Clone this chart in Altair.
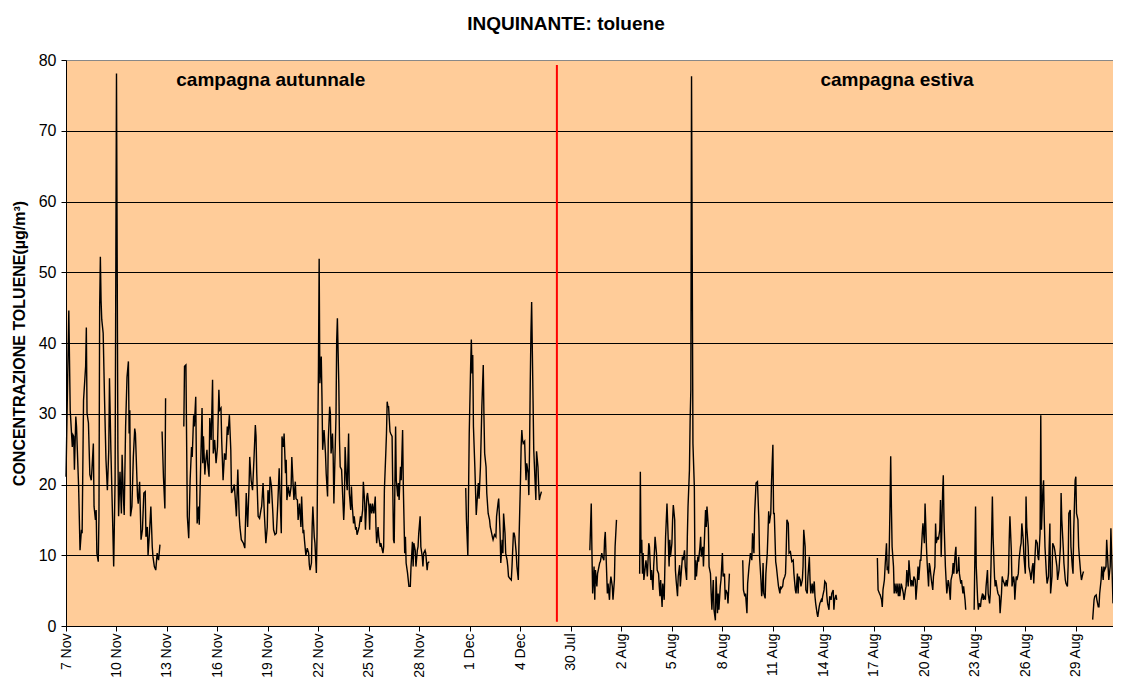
import altair as alt
import pandas as pd

# ---------------- data ----------------
x_labels = ["7 Nov", "10 Nov", "13 Nov", "16 Nov", "19 Nov", "22 Nov", "25 Nov",
            "28 Nov", "1 Dec", "4 Dec", "30 Jul", "2 Aug", "5 Aug", "8 Aug",
            "11 Aug", "14 Aug", "17 Aug", "20 Aug", "23 Aug", "26 Aug", "29 Aug"]
hours_per_label = 72
total_hours = 1493

# hour index (from 7 Nov 00:00, campaigns placed back to back); None = data gap
aut_hours = [
    0, 4, 5, 6, 9, 10, 11, 12, 14, 15, 18, 20, 22, 23, 25, 28, 29, 30, 32, 34, 36, 37, 39, 40,
    42, 43, 44, 46, 47, 48, 49, 50, 51, 53, 55, 57, 59, 61, 62, 64, 66, 68, 70, 72, 74, 75,
    77, 79, 80, 82, 83, 85, 87, 89, 90, 91, 92, 94, 96, 98, 99, 102, 103, 105, 107, 109,
    111, 113, 114, 116, 117, 119, 121, 123, 124, 126, 128, 130, 132, 134, None,
    137, 139, 141, 142, None,
    168, 169, 171, 173, 175, 177, 179, 180, 182, 183, 185, 186, 187, 189, 190, 192, 194,
    195, 196, 198, 199, 201, 202, 204, 205, 207, 208, 209, 210, 212, 214, 216, 218, 219,
    221, 222, 224, 226, 228, 230, 231, 233, 235, 236, 238, 240,
    243, 245, 247, 248, 250, 253, 255, 257, 259, 261, 262, 264, 266, 268, 270, 271, 272,
    274, 276, 278, 279, 281, 283, 285, 287, 288, 290, 291, 293, 295, 296, 298, 300, 302,
    304, 305, 307, 308, 310, 311, 313, 314, 315, 317, 319, 321, 322, 324, 325, 327, 328,
    330, 331, 333, 335, 336, 338, 339, 340, 342, 344, 346, 347, 348, 350, 351, 352, 354,
    355, 357, 358, 359, 360, 361, 362, 364, 365, 366, 368, 370, 371, 373, 374, 376, 377,
    378, 380, 381, 382, 383, 385, 386, 387, 389, 390, 391, 393, 394, 396, 397, 398, 400,
    401, 403, 404, 406, 407, 408, 410, 411, 413, 414, 415, 417, 418, 420, 421, 423, 424,
    426, 427, 429, 430, 432, 433, 434, 436, 437, 439, 441, 442, 443, 445, 446, 448, 449,
    450, 452, 453, 454, 456, 457, 458, 459, 460, 462, 463, 465, 466, 467, 468, 470, 471,
    473, 474, 475, 477, 478, 480, 481, 483, 484, 485, 487, 489, 491, 492, 494, 495, 496,
    498, 499, 501, 502, 503, 505, 506, 508, 509, 510, 512, 513, 515, 516, 518, None,
    570, 571, 573, 575, 577, 578, 579, 580, 581, 583, 585, 587, 588, 589, 591, 593, 595,
    596, 597, 599, 600, 602, 604, 605, 606, 608, 609, 611, 613, 614, 616, 617, 619, 620,
    622, 623, 624, 626, 627, 629, 630, 631, 633, 635, 636, 638, 639, 640, 642, 643, 645,
    646, 648, 649, 650, 651, 652, 654, 655, 656, 657, 659, 660, 661, 662, 663, 664, 666,
    667, 669, 670, 671, 673, 674, 675, 676, 678,
]
aut_values = [
    21.1, 44.6, 37.6, 30.5, 25.3, 27.0, 26.8, 22.1, 29.6, 28.2, 19.7, 10.7, 13.6, 13.1, 31.9,
    36.7, 42.2, 30.1, 28.7, 21.4, 20.6, 22.1, 25.8, 16.9, 15.0, 16.4, 10.3, 9.1, 15.5, 45.1,
    52.2, 46.0, 43.3, 41.4, 31.9, 23.5, 19.2, 24.9, 35.0, 24.9, 16.9, 8.4, 20.6, 78.1, 24.9,
    15.5, 21.8, 15.9, 24.2, 17.8, 15.7, 28.2, 35.2, 37.4, 27.2, 30.5, 15.5, 16.9, 23.9, 27.9,
    27.2, 18.3, 17.3, 20.4, 12.2, 13.6, 18.8, 19.0, 12.6, 14.0, 10.0, 13.1, 16.9, 11.2, 9.8,
    8.4, 7.9, 10.3, 9.3, 11.5, None,
    27.5, 21.0, 16.6, 32.2, None,
    28.2, 36.7, 36.9, 15.5, 12.4, 20.6, 25.3, 23.9, 29.8, 28.2, 32.4, 22.5, 14.5, 16.9, 14.3,
    22.5, 30.8, 23.0, 26.8, 21.4, 23.0, 24.9, 23.0, 21.1, 29.4, 26.3, 30.5, 34.8, 24.4, 26.3,
    23.0, 25.3, 33.4, 30.5, 30.8, 26.3, 20.6, 24.4, 23.5, 28.2, 27.0, 29.8, 24.9, 18.8, 19.2,
    20.0,
    15.5, 22.1, 15.5, 14.0, 12.2, 11.7, 11.0, 18.8, 14.0, 19.7, 23.9, 20.6, 19.2, 23.5, 28.4,
    26.8, 21.6, 15.5, 15.2, 16.4, 16.9, 20.2, 15.5, 11.7, 14.0, 19.2, 17.3, 21.1, 19.7, 15.9,
    13.6, 12.9, 13.1, 17.3, 22.3, 19.2, 13.1, 26.8, 25.3, 27.2, 21.6, 23.5, 17.8, 19.7, 18.3,
    19.7, 23.9, 19.7, 17.8, 20.4, 18.0, 17.8, 15.0, 17.3, 14.0, 18.3, 13.1, 13.6, 12.2, 10.0,
    11.0, 10.3, 8.6, 7.9, 8.9, 14.0, 16.9, 12.6, 11.7, 7.5, 13.1, 26.3, 36.7, 51.9, 34.3,
    38.1, 32.4, 24.9, 27.7, 24.4, 21.6, 18.3, 26.3, 31.0, 30.1, 24.4, 27.2, 23.9, 17.3, 21.6,
    29.6, 40.4, 43.5, 34.3, 26.3, 22.5, 22.1, 19.7, 15.0, 17.3, 25.3, 20.6, 19.2, 27.2, 18.8,
    16.4, 19.7, 17.3, 14.5, 15.5, 13.6, 14.0, 12.9, 13.6, 14.0, 15.5, 14.7, 16.4, 20.4, 17.3,
    13.6, 18.3, 18.8, 16.9, 13.6, 17.3, 15.9, 17.3, 15.9, 18.3, 14.0, 11.7, 14.0, 12.6, 11.2,
    11.7, 11.2, 10.3, 11.2, 19.2, 24.4, 27.2, 31.7, 31.0, 31.0, 27.5, 27.2, 26.8, 19.2, 12.2,
    11.7, 28.2, 20.6, 18.3, 20.2, 17.8, 22.5, 20.6, 27.7, 19.7, 10.3, 12.6, 8.9, 7.5, 5.6,
    5.6, 8.4, 11.9, 8.4, 11.7, 10.7, 8.4, 10.7, 11.2, 13.1, 15.5, 11.2, 9.8, 8.4, 10.3, 10.7,
    10.3, 7.9, 8.9, 9.1, None,
    19.5, 15.0, 10.0, 27.2, 36.7, 40.5, 35.7, 38.3, 28.2, 22.5, 15.7, 18.8, 20.2, 18.0, 22.5,
    31.0, 36.9, 29.6, 24.4, 22.5, 18.8, 15.9, 15.0, 14.0, 13.6, 12.6, 12.2, 12.9, 12.6, 15.5,
    17.3, 18.0, 13.1, 8.9, 12.2, 10.3, 15.9, 13.1, 10.3, 9.3, 8.4, 7.0, 6.7, 6.5, 8.4, 13.1,
    13.1, 12.6, 10.3, 8.4, 6.5, 12.2, 20.2, 25.3, 27.7, 26.3, 25.8, 26.1, 23.0, 20.6, 23.0,
    21.6, 18.5, 24.9, 34.3, 41.4, 45.8, 31.9, 24.9, 20.2, 17.8, 24.7, 22.5, 19.7, 17.8, 18.3,
    19.0,
]

est_hours = [
    747, 749, 750, 751, 753, 754, 755, 757, 758, 759, 761, 762, 764, 765, 767, 768, 769, 770,
    772, 773, 775, 776, 777, 779, 780, 782, 783, 785, None,
    818, 819, 820, 821, 822, 823, 824, 825, 827, 828, 829, 831, 832, 834, 835, 837, 838, 839,
    840, 842, 843, 845, 846, 847, 848, 850, 851, 853, 854, 855, 857, 858, 860, 861, 862, 864,
    865, 866, 868, 869, 870, 872, 873, 875, 876, 878, 879, 880, 882, 883, 885, 886, 887, 889,
    890, 891, 892, 894, 896, 897, 898, 899, 901, 902, 904, 905, 906, 908, 909, 911, 912, 913,
    914, 916, 917, 919, 920, 921, 923, 924, 926, 927, 929, 930, 931, 933, 934, 936, 937, 939,
    940, 941, 943, 944, 946, None,
    965, 966, 968, 969, 971, 972, 974, 975, 976, 978, 979, 981, 982, 984, 986, 988, 989, 991,
    992, 993, 994, 995, 997, 998, 1000, 1001, 1002, 1003, 1005, 1006, 1007, 1008, 1009, 1010,
    1012, 1013, 1015, 1016, 1018, 1019, 1020, 1022, 1023, 1025, 1026, 1027, 1028, 1030, 1031,
    1033, 1034, 1035, 1037, 1038, 1040, 1041, 1043, 1044, 1045, 1047, 1048, 1050, 1051, 1052,
    1054, 1055, 1057, 1058, 1060, 1061, 1062, 1064, 1065, 1067, 1068, 1069, 1071, 1072, 1074,
    1075, 1077, 1078, 1079, 1081, 1082, 1084, 1085, 1086, 1088, 1089, 1091, 1092, 1094, 1095,
    1096, 1098, 1099, None,
    1157, 1158, 1160, 1161, 1163, 1164, 1165, 1167, 1168, 1170, 1171, 1172, 1173, 1174, 1175,
    1176, 1177, 1178, 1180, 1181, 1182, 1184, 1185, 1187, 1188, 1189, 1191, 1192, 1194, 1195,
    1197, 1198, 1199, 1201, 1202, 1204, 1205, 1206, 1208, 1209, 1211, 1212, 1214, 1215, 1216,
    1218, 1219, 1221, 1222, 1224, 1225, 1226, 1227, 1228, 1230, 1231, 1232, 1234, 1236, 1237,
    1239, 1240, 1241, 1243, 1244, 1246, 1247, 1248, 1250, 1251, 1252, 1254, 1255, 1256, 1258,
    1259, 1261, 1262, 1264, 1265, 1266, 1268, 1269, 1270, 1272, 1273, 1274, 1276, 1277, 1279,
    1280, 1282, 1283, None,
    1295, 1297, 1298, 1300, 1301, 1302, 1304, 1305, 1307, 1308, 1309, 1311, 1312, 1314, 1315,
    1317, 1318, 1319, 1321, 1322, 1324, 1325, 1326, 1328, 1329, 1331, 1332, 1334, 1335, 1336,
    1338, 1339, 1341, 1342, 1344, 1345, 1346, 1348, 1349, 1351, 1352, 1353, 1355, 1356, 1358,
    1359, 1361, 1362, 1363, 1365, 1366, 1368, 1369, 1370, 1372, 1373, 1375, 1376, 1378, 1379,
    1380, 1382, 1383, 1385, 1386, 1387, 1389, 1390, 1391, 1393, 1394, 1395, 1396, 1398, 1399,
    1401, 1402, 1403, 1404, 1406, 1407, 1409, 1410, 1413, 1414, 1416, 1418, 1419, 1420, 1422,
    1423, 1425, 1426, 1428, 1429, 1430, 1432, 1433, 1435, 1436, 1437, 1439, 1440, 1441, 1443,
    1444, 1445, 1447, 1448, 1450, 1451, None,
    1464, 1466, 1467, 1469, 1470, 1472, 1473, 1474, 1476, 1477, 1479, 1480, 1481, 1483, 1484,
    1486, 1487, 1489, 1490, 1493,
]
est_values = [
    10.7, 17.3, 10.3, 4.6, 8.4, 3.7, 7.9, 5.6, 7.4, 7.9, 8.9, 9.1, 10.3, 9.8, 9.3, 12.2, 13.3,
    10.3, 4.6, 6.0, 3.7, 6.0, 7.0, 5.6, 3.7, 6.5, 11.2, 15.0, None,
    7.4, 21.8, 10.3, 12.2, 7.4, 10.3, 6.5, 7.4, 9.3, 8.4, 7.0, 11.7, 11.2, 6.5, 7.9, 5.1, 8.4,
    10.3, 12.6, 10.3, 7.9, 7.4, 5.6, 4.2, 6.5, 2.7, 6.0, 3.7, 8.4, 12.6, 17.3, 14.5, 8.4, 12.2,
    9.8, 11.7, 15.0, 17.1, 15.0, 7.9, 6.5, 4.2, 7.0, 8.6, 5.6, 8.4, 9.8, 9.3, 10.7, 8.4, 6.5,
    12.6, 16.9, 22.0, 29.1, 33.4, 77.7, 25.8, 19.7, 6.5, 9.3, 7.0, 9.8, 9.1, 11.2, 12.6, 9.8,
    11.2, 8.4, 14.0, 16.4, 14.0, 16.9, 14.0, 8.4, 7.4, 4.6, 2.3, 6.5, 2.3, 0.8, 7.0, 1.8, 4.6,
    2.3, 5.6, 6.5, 10.3, 7.0, 7.4, 3.7, 5.1, 4.6, 3.2, 7.4, None,
    9.3, 5.1, 4.2, 4.6, 1.8, 6.0, 8.4, 9.3, 10.3, 9.3, 13.1, 10.3, 15.9, 20.2, 20.4, 15.0, 9.8,
    6.5, 4.2, 5.1, 8.9, 4.6, 3.9, 7.4, 10.3, 13.1, 16.2, 14.5, 15.9, 20.2, 23.0, 25.6, 15.9,
    15.9, 9.1, 8.4, 6.5, 5.6, 4.6, 5.6, 5.3, 5.6, 6.5, 7.0, 7.4, 10.7, 15.0, 14.5, 10.3, 10.5,
    9.8, 9.1, 9.3, 7.4, 5.1, 4.6, 7.4, 4.6, 7.0, 6.5, 5.6, 6.5, 8.4, 13.6, 11.2, 5.1, 4.6, 7.0,
    9.8, 6.5, 4.6, 6.0, 4.6, 6.3, 4.2, 3.2, 1.8, 1.3, 2.7, 3.2, 3.7, 3.4, 4.2, 5.1, 6.3, 6.0,
    4.2, 3.2, 2.3, 4.2, 3.7, 4.6, 5.1, 2.3, 3.7, 4.4, 3.7, None,
    9.6, 5.1, 4.6, 4.4, 3.7, 2.7, 5.1, 6.5, 8.4, 11.7, 7.9, 8.4, 7.4, 11.2, 16.9, 24.0, 16.9,
    11.2, 8.4, 4.6, 6.0, 4.6, 6.0, 4.2, 6.0, 4.2, 6.0, 5.6, 4.6, 3.7, 5.1, 5.6, 7.9, 5.6, 9.3,
    6.5, 5.6, 6.5, 5.6, 7.0, 6.5, 3.7, 6.5, 8.4, 6.5, 9.3, 9.3, 13.1, 14.5, 11.7, 17.3, 14.5,
    11.2, 8.9, 5.6, 8.9, 8.4, 6.5, 5.1, 7.0, 8.4, 14.5, 11.7, 12.6, 12.2, 13.6, 17.8, 9.8,
    18.8, 21.3, 15.0, 8.4, 6.5, 4.6, 6.5, 6.0, 3.7, 6.5, 7.4, 8.9, 7.4, 10.3, 11.2, 7.4, 7.9,
    9.8, 7.4, 6.0, 6.5, 4.6, 5.6, 3.7, 2.3, None,
    2.3, 16.9, 8.4, 3.7, 2.3, 3.2, 2.7, 3.7, 4.6, 3.7, 4.2, 3.7, 5.6, 7.9, 4.6, 3.2, 4.6, 8.4,
    18.3, 12.6, 7.0, 5.6, 6.5, 5.1, 4.6, 4.2, 1.8, 4.6, 7.0, 6.5, 6.0, 5.6, 6.5, 5.6, 7.4,
    12.2, 15.5, 10.7, 5.6, 7.0, 6.5, 3.7, 7.0, 6.5, 7.4, 9.3, 11.2, 11.7, 14.5, 12.2, 9.8, 7.4,
    18.3, 14.0, 11.2, 8.4, 7.4, 6.5, 8.4, 8.9, 6.0, 10.3, 12.2, 11.7, 9.8, 9.3, 13.1, 29.8,
    13.6, 19.2, 20.6, 15.0, 11.2, 7.4, 6.0, 7.0, 11.2, 14.5, 4.6, 7.0, 11.7, 11.2, 10.7, 8.4,
    6.5, 7.9, 11.2, 18.8, 15.0, 11.2, 8.9, 6.5, 6.0, 5.6, 8.4, 15.9, 16.4, 11.2, 8.4, 7.4,
    13.6, 20.6, 21.1, 15.9, 15.0, 11.2, 9.8, 7.4, 6.5, 7.4, 7.7, None,
    0.9, 3.7, 4.2, 4.4, 3.7, 2.7, 2.7, 4.6, 6.5, 8.4, 6.5, 8.4, 7.9, 8.4, 12.2, 8.4, 6.5, 8.4,
    13.8, 3.2,
]

divider_hour = [700]
divider_low = [0.6]
divider_high = [79.3]

ann_text = ["campagna autunnale", "campagna estiva"]
ann_hour = [292, 1185]
ann_value = [76.3, 76.3]

chart_title = ["INQUINANTE: toluene"]
y_title = "CONCENTRAZIONE TOLUENE(µg/m³)"

# ---------------- tables ----------------
rows = []
seg = 0
for hs, vs in ((aut_hours, aut_values), (est_hours, est_values)):
    seg += 1
    for h, v in zip(hs, vs):
        if h is None:
            seg += 1
            continue
        rows.append({"h": h, "v": v, "seg": seg})
df = pd.DataFrame(rows)

div_df = pd.DataFrame({"h": divider_hour, "v": divider_low, "v2": divider_high})
ann_df = pd.DataFrame({"h": ann_hour, "v": ann_value, "t": ann_text})
title_df = pd.DataFrame({"t": chart_title})

FONT = "Liberation Sans"
tick_vals = [i * hours_per_label for i in range(len(x_labels))]
label_expr = "[" + ",".join("'" + s + "'" for s in x_labels) + "][round(datum.value/%d)]" % hours_per_label

x_scale = alt.Scale(domain=[0, total_hours], nice=False, zero=False)
y_scale = alt.Scale(domain=[0, 80], nice=False)

x_axis = alt.Axis(values=tick_vals, labelExpr=label_expr, labelAngle=270,
                  labelFontSize=14, labelFont=FONT, labelColor="black",
                  tickColor="black", tickSize=5, tickWidth=1, domainColor="black",
                  domainWidth=1, labelPadding=2, grid=False, title="",
                  labelOverlap=False, labelBound=False, labelFlush=False)
y_axis = alt.Axis(values=list(range(0, 81, 10)), labelFontSize=16, labelFont=FONT,
                  labelColor="black", tickColor="black", tickSize=5, tickWidth=1,
                  domainColor="black", domainWidth=1, labelPadding=5,
                  grid=True, gridWidth=1,
                  gridColor={"condition": {"test": "datum.value === 80", "value": "#888888"},
                             "value": "#000000"},
                  title=y_title, titleFont=FONT, titleFontSize=16, titleFontWeight="bold",
                  titleColor="black", titleX=-47, titleY=283, titleAngle=270,
                  titleAlign="center", titleBaseline="middle")

line = alt.Chart(df).mark_line(color="black", strokeWidth=1.4).encode(
    x=alt.X("h:Q", scale=x_scale, axis=x_axis),
    y=alt.Y("v:Q", scale=y_scale, axis=y_axis),
    detail="seg:N",
)

rule = alt.Chart(div_df).mark_rule(color="#FF0000", strokeWidth=2).encode(
    x=alt.X("h:Q", scale=x_scale),
    y=alt.Y("v:Q", scale=y_scale),
    y2="v2:Q",
)

ann = alt.Chart(ann_df).mark_text(font=FONT, fontSize=19, fontWeight="bold", color="black",
                                   align="center", baseline="alphabetic").encode(
    x=alt.X("h:Q", scale=x_scale),
    y=alt.Y("v:Q", scale=y_scale),
    text="t:N",
)

title = alt.Chart(title_df).mark_text(font=FONT, fontSize=19, fontWeight="bold", color="black",
                                      align="center", baseline="alphabetic").encode(
    x=alt.value(500),
    y=alt.value(-30),
    text="t:N",
)

chart = alt.layer(line, rule, ann, title).properties(
    width=1047, height=566,
    padding={"left": 58, "top": 52, "right": 0, "bottom": 52},
    autosize=alt.AutoSizeParams(type="none"),
    background="white",
).configure_view(
    fill="#FFCC99", stroke="#888888", strokeWidth=1
)

chart.save("out.html", embed_options={"renderer": "svg", "actions": False})
